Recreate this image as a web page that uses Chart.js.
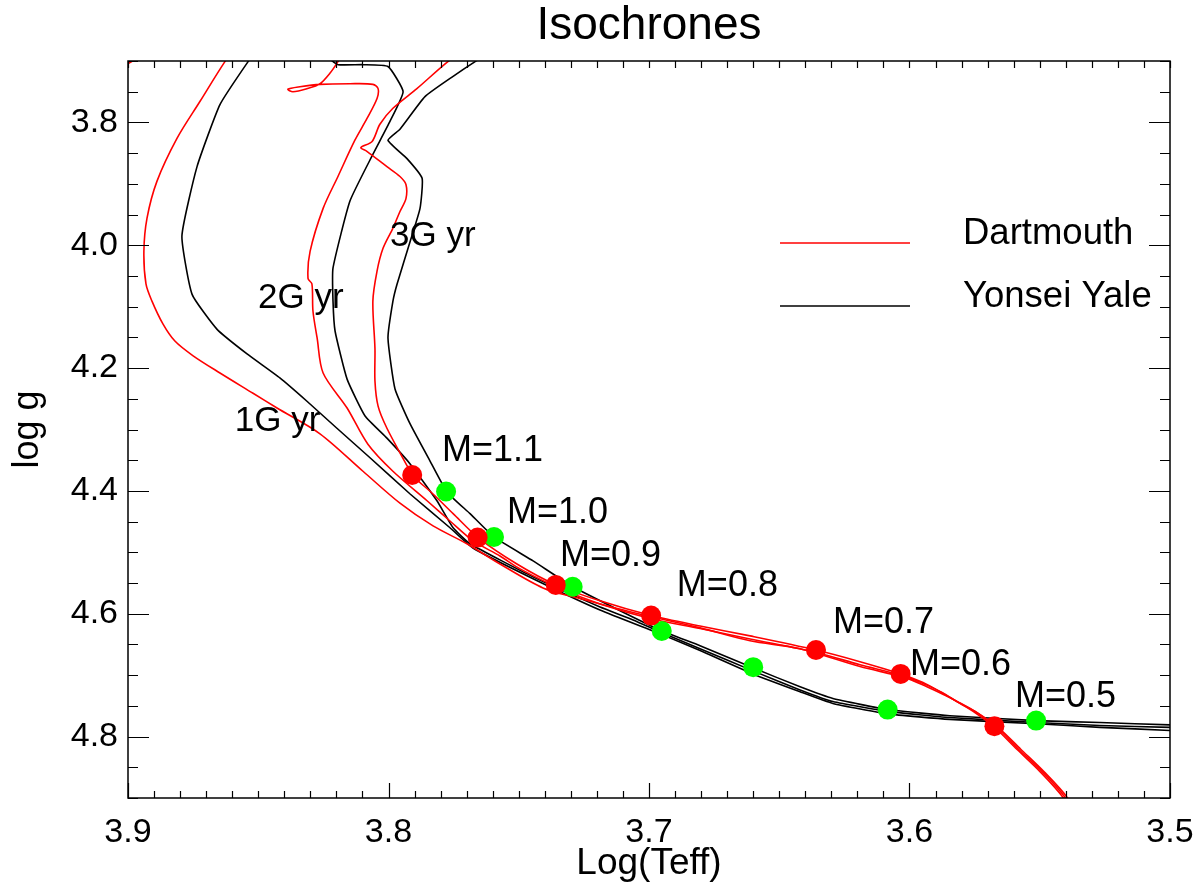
<!DOCTYPE html>
<html>
<head>
<meta charset="utf-8">
<title>Isochrones</title>
<script src="https://cdn.jsdelivr.net/npm/chart.js@4.4.1/dist/chart.umd.min.js"></script>
<style>
  html, body { margin: 0; padding: 0; background: #fff; }
  #wrap { width: 1202px; height: 894px; position: relative; }
</style>
</head>
<body>
<div id="wrap"><canvas id="isoChart"></canvas></div>
<script>
// [log Teff, log g] along each isochrone, main sequence first, null = gap
const dartmouth1G = [
  [3.5349, 4.937], [3.5395, 4.899], [3.5484, 4.857], [3.5572, 4.821], [3.5660, 4.785],
  [3.5733, 4.763], [3.5802, 4.746], [3.5868, 4.732], [3.5933, 4.719], [3.6017, 4.704],
  [3.6190, 4.686], [3.6420, 4.657], [3.6612, 4.644], [3.6804, 4.623], [3.7061, 4.598],
  [3.7276, 4.574], [3.7407, 4.558], [3.7572, 4.519], [3.7699, 4.486], [3.7829, 4.457],
  [3.7956, 4.420], [3.8098, 4.368], [3.8263, 4.307], [3.8428, 4.265], [3.8520, 4.241],
  [3.8647, 4.208], [3.8750, 4.180], [3.8820, 4.156], [3.8866, 4.128], [3.8908, 4.091],
  [3.8931, 4.063], [3.8939, 4.010], [3.8927, 3.956], [3.8889, 3.896], [3.8812, 3.826],
  [3.8724, 3.766], [3.8628, 3.701], [3.8570, 3.668],
  null,
  [3.9031, 3.712], [3.8954, 3.693]
];
const dartmouth2G = [
  [3.5357, 4.937], [3.5403, 4.899], [3.5491, 4.857], [3.5580, 4.821], [3.5668, 4.784],
  [3.5741, 4.761], [3.5810, 4.745], [3.5875, 4.728], [3.5940, 4.715], [3.6025, 4.701],
  [3.6190, 4.683], [3.6359, 4.663], [3.6612, 4.641], [3.6804, 4.624], [3.6992, 4.608],
  [3.7188, 4.584], [3.7342, 4.559], [3.7495, 4.527], [3.7572, 4.506], [3.7676, 4.481],
  [3.7764, 4.449], [3.7852, 4.416], [3.7983, 4.368], [3.8079, 4.324], [3.8159, 4.265],
  [3.8251, 4.208], [3.8274, 4.151], [3.8290, 4.107], [3.8294, 4.063], [3.8309, 4.054],
  [3.8301, 4.010], [3.8251, 3.940], [3.8194, 3.888], [3.8129, 3.829], [3.8083, 3.794],
  [3.8044, 3.761], [3.8040, 3.745], [3.8060, 3.738], [3.8148, 3.737], [3.8263, 3.738],
  [3.8340, 3.742], [3.8386, 3.746], [3.8367, 3.750], [3.8313, 3.745], [3.8263, 3.737],
  [3.8225, 3.720], [3.8194, 3.701], [3.8167, 3.681]
];
const dartmouth3G = [
  [3.5365, 4.937], [3.5411, 4.899], [3.5499, 4.857], [3.5587, 4.821], [3.5676, 4.784],
  [3.5749, 4.761], [3.5818, 4.743], [3.5883, 4.727], [3.5948, 4.712], [3.6033, 4.698],
  [3.6190, 4.678], [3.6359, 4.659], [3.6612, 4.636], [3.6804, 4.620], [3.6992, 4.603],
  [3.7188, 4.579], [3.7357, 4.553], [3.7507, 4.519], [3.7656, 4.476], [3.7752, 4.437],
  [3.7829, 4.405], [3.7910, 4.374], [3.7929, 4.359], [3.8006, 4.298], [3.8040, 4.262],
  [3.8052, 4.221], [3.8052, 4.168], [3.8060, 4.091], [3.8044, 4.042], [3.8021, 4.005],
  [3.7983, 3.972], [3.7956, 3.945], [3.7933, 3.924], [3.7933, 3.901], [3.7956, 3.888],
  [3.8006, 3.872], [3.8083, 3.847], [3.8106, 3.841], [3.8063, 3.831], [3.8033, 3.803],
  [3.7983, 3.777], [3.7891, 3.745], [3.7772, 3.701], [3.7687, 3.676]
];
const yale1G = [
  [3.4923, 4.792], [3.5000, 4.790], [3.5269, 4.785], [3.5514, 4.779], [3.5845, 4.772],
  [3.6083, 4.763], [3.6294, 4.746], [3.6420, 4.727], [3.6601, 4.698], [3.6804, 4.660],
  [3.6950, 4.634], [3.7188, 4.594], [3.7445, 4.543], [3.7676, 4.493], [3.7764, 4.460],
  [3.7917, 4.405], [3.8071, 4.346], [3.8198, 4.298], [3.8313, 4.254], [3.8417, 4.216],
  [3.8543, 4.177], [3.8658, 4.137], [3.8754, 4.080], [3.8793, 3.985], [3.8735, 3.872],
  [3.8647, 3.771], [3.8539, 3.701], [3.8493, 3.676]
];
const yale2G = [
  [3.4923, 4.787], [3.5000, 4.785], [3.5269, 4.782], [3.5514, 4.777], [3.5845, 4.769],
  [3.6083, 4.759], [3.6294, 4.743], [3.6420, 4.724], [3.6601, 4.693], [3.6804, 4.657],
  [3.6950, 4.631], [3.7061, 4.610], [3.7188, 4.589], [3.7445, 4.540], [3.7687, 4.486],
  [3.7752, 4.460], [3.7814, 4.416], [3.7917, 4.356], [3.8006, 4.314], [3.8090, 4.278],
  [3.8159, 4.218], [3.8205, 4.140], [3.8213, 4.091], [3.8213, 4.037], [3.8148, 3.928],
  [3.8060, 3.852], [3.7994, 3.798], [3.7944, 3.750], [3.8002, 3.709], [3.8098, 3.706],
  [3.8194, 3.706], [3.8225, 3.697]
];
const yale3G = [
  [3.4923, 4.781], [3.5000, 4.781], [3.5269, 4.777], [3.5514, 4.774], [3.5845, 4.766],
  [3.6083, 4.756], [3.6294, 4.738], [3.6420, 4.719], [3.6601, 4.688], [3.6804, 4.652],
  [3.6950, 4.628], [3.7111, 4.595], [3.7292, 4.556], [3.7445, 4.514], [3.7595, 4.475],
  [3.7687, 4.437], [3.7775, 4.402], [3.7841, 4.351], [3.7917, 4.291], [3.7975, 4.234],
  [3.8002, 4.151], [3.7983, 4.091], [3.7967, 4.063], [3.7917, 3.994], [3.7879, 3.940],
  [3.7871, 3.891], [3.7929, 3.859], [3.8002, 3.829], [3.7956, 3.811], [3.7860, 3.758],
  [3.7752, 3.725], [3.7660, 3.699], [3.7572, 3.676]
];

// stellar masses marked on the 3 Gyr isochrones
const massLabels = ['M=1.1', 'M=1.0', 'M=0.9', 'M=0.8', 'M=0.7', 'M=0.6', 'M=0.5'];
const dartmouthMass = [
  [3.7909, 4.374], [3.7658, 4.476], [3.7358, 4.553], [3.6992, 4.603],
  [3.6359, 4.659], [3.6034, 4.698], [3.5674, 4.783]
];
const yaleMass = [
  [3.7779, 4.401], [3.7595, 4.475], [3.7293, 4.556], [3.6951, 4.628],
  [3.6600, 4.687], [3.6084, 4.756], [3.5514, 4.774]
];
const massLabelPos = [
  [3.7795, 4.351], [3.7545, 4.452], [3.7342, 4.522], [3.6893, 4.571],
  [3.6294, 4.632], [3.5998, 4.700], [3.5595, 4.752]
];
const ageLabels = ['1G yr', '2G yr', '3G yr'];
const ageLabelPos = [[3.859, 4.302], [3.8501, 4.102], [3.7994, 4.002]];

const xTicks = [3.9, 3.8, 3.7, 3.6, 3.5];
const yTicks = [3.8, 4.0, 4.2, 4.4, 4.6, 4.8];

const FONT = '"Liberation Sans", Helvetica, Arial, sans-serif';
const RED = '#ff0000';
const BLACK = '#000000';
const GREEN = '#00ff00';

const toPts = arr => arr.map(p => p ? { x: p[0], y: p[1] } : { x: null, y: null });

function curve(label, pts, color, order, tension) {
  return {
    label: label,
    data: toPts(pts),
    showLine: true,
    borderColor: color,
    backgroundColor: color,
    borderWidth: 1.6,
    pointRadius: 0,
    pointHoverRadius: 0,
    tension: tension,
    spanGaps: false,
    order: order
  };
}

function dots(label, pts, color, order) {
  return {
    label: label,
    data: toPts(pts),
    showLine: false,
    pointRadius: 10,
    pointHoverRadius: 10,
    pointBorderWidth: 0,
    pointBackgroundColor: color,
    borderColor: color,
    order: order
  };
}

// box with inward ticks on all four sides
const frameTicks = {
  id: 'frameTicks',
  afterDatasetsDraw(chart) {
    const { ctx, chartArea: a, scales: { x, y } } = chart;
    ctx.save();
    ctx.strokeStyle = '#000';
    ctx.lineWidth = 1.2;
    ctx.beginPath();
    for (let i = 0; i <= 40; i++) {
      const px = Math.round(x.getPixelForValue(3.5 + i * 0.01)) + 0.5;
      const major = i % 10 === 0;
      ctx.moveTo(px, a.bottom);
      ctx.lineTo(px, a.bottom - (major ? 15 : 7));
      ctx.moveTo(px, a.top);
      ctx.lineTo(px, a.top + 7);
    }
    for (let i = 0; i <= 24; i++) {
      const v = 3.7 + i * 0.05;
      const py = Math.round(y.getPixelForValue(v)) + 0.5;
      const major = yTicks.some(t => Math.abs(t - v) < 1e-6);
      const len = major ? 21 : 10;
      ctx.moveTo(a.left, py);
      ctx.lineTo(a.left + len, py);
      ctx.moveTo(a.right, py);
      ctx.lineTo(a.right - len, py);
    }
    ctx.stroke();
    ctx.lineWidth = 1.5;
    ctx.strokeRect(a.left, a.top, a.right - a.left, a.bottom - a.top);
    ctx.restore();
  }
};

// age and mass annotations, placed in data units
const annotations = {
  id: 'annotations',
  afterDatasetsDraw(chart) {
    const { ctx, scales: { x, y } } = chart;
    ctx.save();
    ctx.fillStyle = '#000';
    ctx.textAlign = 'left';
    ctx.textBaseline = 'alphabetic';
    ctx.font = '35px ' + FONT;
    ageLabels.forEach((t, i) => {
      ctx.fillText(t, x.getPixelForValue(ageLabelPos[i][0]), y.getPixelForValue(ageLabelPos[i][1]));
    });
    ctx.font = '36px ' + FONT;
    massLabels.forEach((t, i) => {
      ctx.fillText(t, x.getPixelForValue(massLabelPos[i][0]), y.getPixelForValue(massLabelPos[i][1]));
    });
    ctx.restore();
  }
};

// line-sample legend inside the plot box
const boxLegend = {
  id: 'boxLegend',
  afterDraw(chart) {
    const { ctx, chartArea: a } = chart;
    const entries = [
      { text: 'Dartmouth', color: RED, dy: 182 },
      { text: 'Yonsei Yale', color: BLACK, dy: 245 }
    ];
    ctx.save();
    ctx.font = '36.5px ' + FONT;
    ctx.textAlign = 'left';
    ctx.textBaseline = 'alphabetic';
    entries.forEach(e => {
      const yy = a.top + e.dy;
      ctx.strokeStyle = e.color;
      ctx.lineWidth = 1.5;
      ctx.beginPath();
      ctx.moveTo(a.left + 652, yy);
      ctx.lineTo(a.left + 782, yy);
      ctx.stroke();
      ctx.fillStyle = '#000';
      ctx.fillText(e.text, a.left + 835, yy + 1);
    });
    ctx.restore();
  }
};

const ctx = document.getElementById('isoChart').getContext('2d');
new Chart(ctx, {
  type: 'scatter',
  data: {
    datasets: [
      dots('Dartmouth masses', dartmouthMass, RED, 0),
      dots('Yonsei Yale masses', yaleMass, GREEN, 1),
      curve('Dartmouth 1G', dartmouth1G, RED, 2, 0.3),
      curve('Dartmouth 2G', dartmouth2G, RED, 2, 0.3),
      curve('Dartmouth 3G', dartmouth3G, RED, 2, 0.3),
      curve('Yonsei Yale 1G', yale1G, BLACK, 3, 0.15),
      curve('Yonsei Yale 2G', yale2G, BLACK, 3, 0.15),
      curve('Yonsei Yale 3G', yale3G, BLACK, 3, 0.15)
    ]
  },
  plugins: [frameTicks, annotations, boxLegend],
  options: {
    responsive: true,
    maintainAspectRatio: false,
    animation: false,
    events: [],
    layout: { padding: { left: 0, right: 32, top: 0, bottom: 0 } },
    plugins: {
      legend: { display: false },
      tooltip: { enabled: false },
      title: {
        display: true,
        fullSize: false,
        text: 'Isochrones',
        color: '#000',
        font: { family: FONT, size: 46, weight: 'normal', lineHeight: 1.0 },
        padding: { top: 3, bottom: 12 }
      }
    },
    scales: {
      x: {
        type: 'linear',
        position: 'bottom',
        reverse: true,
        min: 3.5,
        max: 3.9,
        afterBuildTicks: s => { s.ticks = xTicks.map(v => ({ value: v })); },
        afterFit: s => {
          s.height = 96;
          s.paddingLeft = 0;
          s.paddingRight = 0;
        },
        grid: { display: false, drawTicks: false },
        border: { display: false },
        ticks: {
          color: '#000',
          font: { family: FONT, size: 34 },
          padding: 14,
          maxRotation: 0,
          autoSkip: false,
          callback: v => v.toFixed(1)
        },
        title: {
          display: true,
          text: 'Log(Teff)',
          color: '#000',
          font: { family: FONT, size: 37 },
          padding: { top: 0, bottom: 8 }
        }
      },
      y: {
        type: 'linear',
        position: 'left',
        reverse: true,
        min: 3.7,
        max: 4.9,
        afterBuildTicks: s => { s.ticks = yTicks.map(v => ({ value: v })); },
        afterFit: s => { s.width = 128; },
        grid: { display: false, drawTicks: false },
        border: { display: false },
        ticks: {
          color: '#000',
          font: { family: FONT, size: 34 },
          padding: 10,
          autoSkip: false,
          callback: v => v.toFixed(1)
        },
        title: {
          display: true,
          text: 'log g',
          color: '#000',
          font: { family: FONT, size: 36 },
          padding: { top: 6, bottom: 0 }
        }
      }
    }
  }
});
</script>
</body>
</html>
